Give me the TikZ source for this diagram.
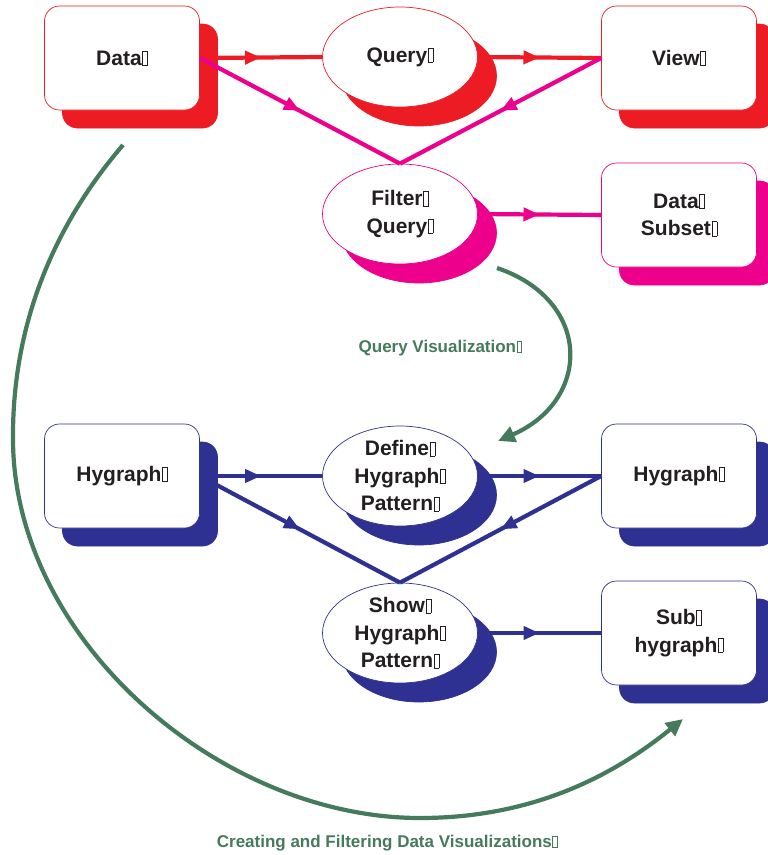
\documentclass[tikz,border=0pt]{standalone}
\usepackage{fontspec}
\setmainfont{Liberation Sans}
\usetikzlibrary{shapes.geometric,shadows,arrows.meta,decorations.markings}
\definecolor{redc}{HTML}{ED1C24}
\definecolor{pinkc}{HTML}{EC008C}
\definecolor{bluec}{HTML}{2E3192}
\definecolor{greenc}{HTML}{467A5C}
\definecolor{txtc}{HTML}{231F20}
\newcommand\tofu{\kern0.6pt{\fboxsep0pt\fboxrule0.45pt\fbox{\rule{0pt}{0.66em}\hspace{0.22em}}}}
\tikzset{
  base/.style={font=\fontsize{21}{27.5}\selectfont\bfseries, text=txtc, align=center, fill=white, line width=0.7pt},
  boxn/.style={base, rectangle, rounded corners=15pt, minimum width=155pt, minimum height=104pt, draw=#1,
    copy shadow={shadow xshift=18pt, shadow yshift=-18pt, fill=#1, draw=#1}},
  elln/.style={base, ellipse, minimum width=155pt, minimum height=100pt, inner sep=0pt, draw=#1,
    copy shadow={shadow xshift=19pt, shadow yshift=-19pt, fill=#1, draw=#1}},
  midarrow/.style={postaction={decorate, decoration={markings,
    mark=at position 0.5 with {\arrow{Triangle[length=16pt,width=13pt]}}}}},
  conn/.style={draw=#1, fill=none, line width=4.2pt, midarrow, #1},
  greenl/.style={draw=greenc, line width=4.2pt, -{Triangle[length=17pt,width=16pt]}},
  glabel/.style={font=\fontsize{17}{20}\selectfont\bfseries, text=greenc}
}
\begin{document}
\begin{tikzpicture}[x=1pt, y=-1pt]
\useasboundingbox (0,0) rectangle (768,855);
% upper part
\node[boxn=redc] (data) at (122,58) {Data\tofu};
\node[elln=redc] (query) at (400,57) {Query\tofu};
\node[boxn=redc] (view) at (679,58) {View\tofu};
\node[elln=pinkc] (filter) at (400,214) {Filter\tofu\\Query\tofu};
\node[boxn=pinkc] (subset) at (679,215) {Data\tofu\\Subset\tofu};
% lower part
\node[boxn=bluec] (hyg) at (122,476) {Hygraph\tofu};
\node[elln=bluec] (define) at (400,476) {Define\tofu\\Hygraph\tofu\\Pattern\tofu};
\node[boxn=bluec] (hyg2) at (679,476) {Hygraph\tofu};
\node[elln=bluec] (show) at (400,633) {Show\tofu\\Hygraph\tofu\\Pattern\tofu};
\node[boxn=bluec] (sub) at (679,633) {Sub\tofu\\hygraph\tofu};
% connectors upper
\draw[conn=redc] (data.east) -- (query.west);
\draw[conn=redc] (query.east) -- (view.west);
\draw[conn=pinkc] (data.east) -- (filter.north);
\draw[conn=pinkc] (view.west) -- (filter.north);
\draw[conn=pinkc] (filter.east) -- (subset.west);
% connectors lower
\draw[conn=bluec] (hyg.east) -- (define.west);
\draw[conn=bluec] (define.east) -- (hyg2.west);
\draw[conn=bluec] (hyg.east) -- (show.north);
\draw[conn=bluec] (hyg2.west) -- (show.north);
\draw[conn=bluec] (show.east) -- (sub.west);
% green arcs
\coordinate (q1) at (497,268);
\coordinate (q2) at (498,441);
\draw[greenl] (q1) .. controls (592,300) and (592,400) .. (q2);
\coordinate (c1) at (123,145);
\coordinate (c2) at (683,719);
\draw[greenl] (c1) .. controls (50,230) and (12,330) .. (13,440)
  .. controls (14,640) and (220,818) .. (420,818)
  .. controls (540,818) and (620,770) .. (c2);
\node[glabel] (qv) at (440,348) {Query Visualization\tofu};
\node[glabel] (cf) at (387,843) {Creating and Filtering Data Visualizations\tofu};
\end{tikzpicture}
\end{document}
